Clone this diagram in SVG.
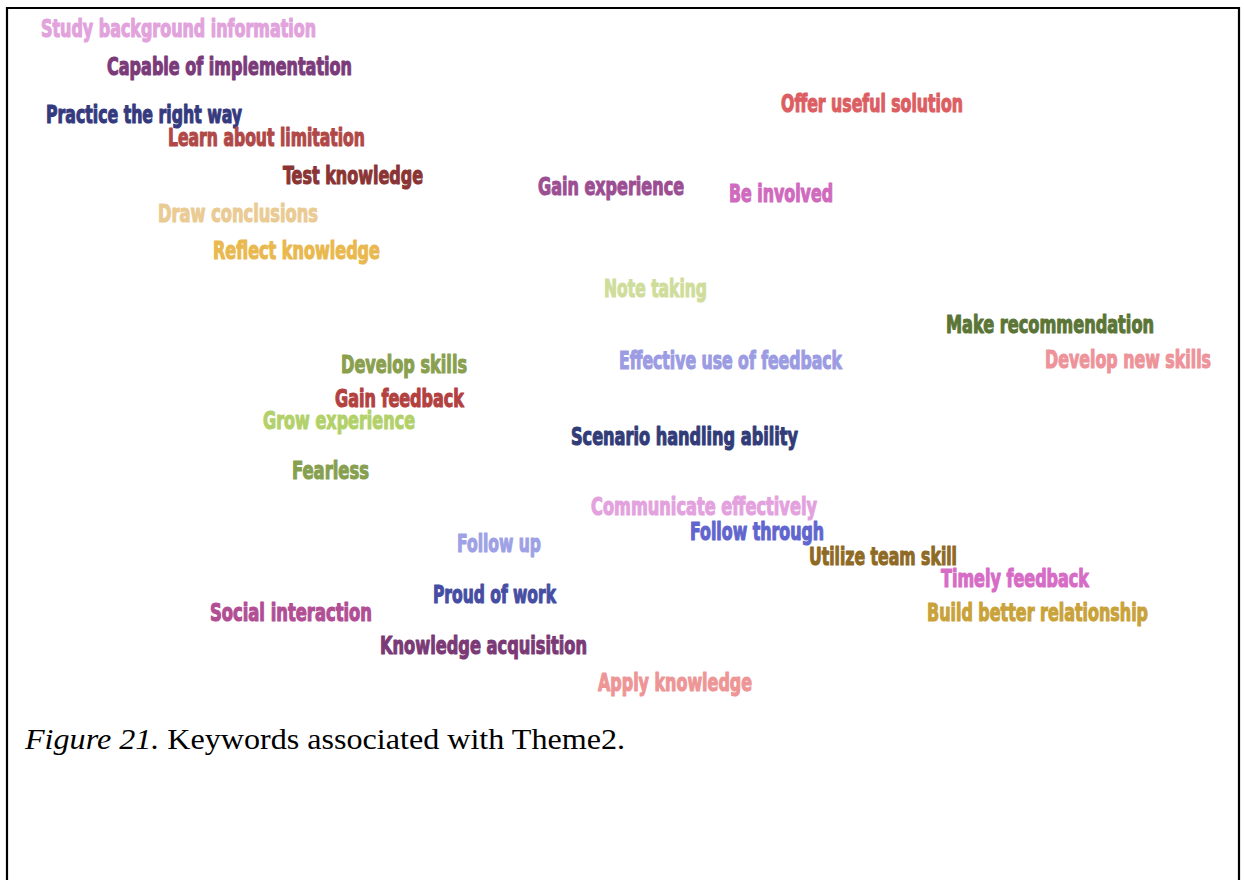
<svg xmlns="http://www.w3.org/2000/svg" width="1244" height="880" viewBox="0 0 1244 880">
  <style>
    .w { font-family: "Liberation Sans Narrow", "DejaVu Sans Condensed", "Liberation Sans", sans-serif; font-weight: bold; font-size: 24px; stroke-width: 1.1px; stroke-linejoin: round; }
    .cap { font-family: "Liberation Serif", "Times New Roman", serif; font-size: 29px; fill: #000; }
  </style>
  <rect width="1244" height="880" fill="#fff"/>
  <!-- frame: left, top and right rules -->
  <path d="M7 880 V8 H1239 V880" fill="none" stroke="#000" stroke-width="2.2"/>

  <g id="words">
    <g id="w-study"><text class="w" x="41" y="37" font-size="21" textLength="275" lengthAdjust="spacingAndGlyphs" fill="#E2A2DC" stroke="#E2A2DC">Study background information</text></g>
    <g id="w-capable"><text class="w" x="107" y="75" textLength="245" lengthAdjust="spacingAndGlyphs" fill="#7B3B7A" stroke="#7B3B7A">Capable of implementation</text></g>
    <g id="w-practice"><text class="w" x="46" y="123" textLength="196" lengthAdjust="spacingAndGlyphs" fill="#353A7E" stroke="#353A7E">Practice the right way</text></g>
    <g id="w-learn"><text class="w" x="168" y="146" textLength="197" lengthAdjust="spacingAndGlyphs" fill="#B04848" stroke="#B04848">Learn about limitation</text></g>
    <g id="w-test"><text class="w" x="283" y="184" textLength="140" lengthAdjust="spacingAndGlyphs" fill="#8A3434" stroke="#8A3434">Test knowledge</text></g>
    <g id="w-draw"><text class="w" x="158" y="222" textLength="160" lengthAdjust="spacingAndGlyphs" fill="#EACB94" stroke="#EACB94">Draw conclusions</text></g>
    <g id="w-reflect"><text class="w" x="213" y="259" textLength="167" lengthAdjust="spacingAndGlyphs" fill="#E9B84E" stroke="#E9B84E">Reflect knowledge</text></g>
    <g id="w-offer"><text class="w" x="781" y="112" textLength="182" lengthAdjust="spacingAndGlyphs" fill="#DC5E63" stroke="#DC5E63">Offer useful solution</text></g>
    <g id="w-gainexp"><text class="w" x="538" y="195" textLength="146" lengthAdjust="spacingAndGlyphs" fill="#9C4E92" stroke="#9C4E92">Gain experience</text></g>
    <g id="w-involved"><text class="w" x="729" y="202" textLength="104" lengthAdjust="spacingAndGlyphs" fill="#D06ABE" stroke="#D06ABE">Be involved</text></g>
    <g id="w-note"><text class="w" x="604" y="297" textLength="103" lengthAdjust="spacingAndGlyphs" fill="#CFDD9B" stroke="#CFDD9B">Note taking</text></g>
    <g id="w-make"><text class="w" x="946" y="333" textLength="208" lengthAdjust="spacingAndGlyphs" fill="#5B7536" stroke="#5B7536">Make recommendation</text></g>
    <g id="w-devnew"><text class="w" x="1045" y="368" textLength="166" lengthAdjust="spacingAndGlyphs" fill="#EE9399" stroke="#EE9399">Develop new skills</text></g>
    <g id="w-effective"><text class="w" x="619" y="369" textLength="223" lengthAdjust="spacingAndGlyphs" fill="#9C9CE3" stroke="#9C9CE3">Effective use of feedback</text></g>
    <g id="w-devskills"><text class="w" x="341" y="373" textLength="126" lengthAdjust="spacingAndGlyphs" fill="#8AA04F" stroke="#8AA04F">Develop skills</text></g>
    <g id="w-gainfb"><text class="w" x="335" y="407" textLength="129" lengthAdjust="spacingAndGlyphs" fill="#B2413F" stroke="#B2413F">Gain feedback</text></g>
    <g id="w-grow"><text class="w" x="263" y="429" textLength="152" lengthAdjust="spacingAndGlyphs" fill="#B3D16A" stroke="#B3D16A">Grow experience</text></g>
    <g id="w-scenario"><text class="w" x="571" y="445" textLength="227" lengthAdjust="spacingAndGlyphs" fill="#323C78" stroke="#323C78">Scenario handling ability</text></g>
    <g id="w-fearless"><text class="w" x="292" y="479" textLength="77" lengthAdjust="spacingAndGlyphs" fill="#86A050" stroke="#86A050">Fearless</text></g>
    <g id="w-communicate"><text class="w" x="591" y="515" textLength="226" lengthAdjust="spacingAndGlyphs" fill="#E3A2DE" stroke="#E3A2DE">Communicate effectively</text></g>
    <g id="w-through"><text class="w" x="690" y="540" textLength="134" lengthAdjust="spacingAndGlyphs" fill="#6166CE" stroke="#6166CE">Follow through</text></g>
    <g id="w-followup"><text class="w" x="457" y="552" textLength="84" lengthAdjust="spacingAndGlyphs" fill="#9EA1E5" stroke="#9EA1E5">Follow up</text></g>
    <g id="w-utilize"><text class="w" x="809" y="565" textLength="148" lengthAdjust="spacingAndGlyphs" fill="#8E6A25" stroke="#8E6A25">Utilize team skill</text></g>
    <g id="w-timely"><text class="w" x="941" y="587" textLength="148" lengthAdjust="spacingAndGlyphs" fill="#D66CC5" stroke="#D66CC5">Timely feedback</text></g>
    <g id="w-proud"><text class="w" x="433" y="603" textLength="123" lengthAdjust="spacingAndGlyphs" fill="#464EA3" stroke="#464EA3">Proud of work</text></g>
    <g id="w-social"><text class="w" x="210" y="621" textLength="162" lengthAdjust="spacingAndGlyphs" fill="#B14E94" stroke="#B14E94">Social interaction</text></g>
    <g id="w-build"><text class="w" x="927" y="621" textLength="221" lengthAdjust="spacingAndGlyphs" fill="#C9A23A" stroke="#C9A23A">Build better relationship</text></g>
    <g id="w-acquisition"><text class="w" x="380" y="654" textLength="207" lengthAdjust="spacingAndGlyphs" fill="#7A3A76" stroke="#7A3A76">Knowledge acquisition</text></g>
    <g id="w-apply"><text class="w" x="598" y="691" textLength="154" lengthAdjust="spacingAndGlyphs" fill="#EE9596" stroke="#EE9596">Apply knowledge</text></g>
  </g>

  <g id="connectors"/>

  <g id="caption">
    <text class="cap" x="25" y="749" textLength="600" lengthAdjust="spacingAndGlyphs"><tspan font-style="italic">Figure 21.</tspan> Keywords associated with Theme2.</text>
  </g>
</svg>
